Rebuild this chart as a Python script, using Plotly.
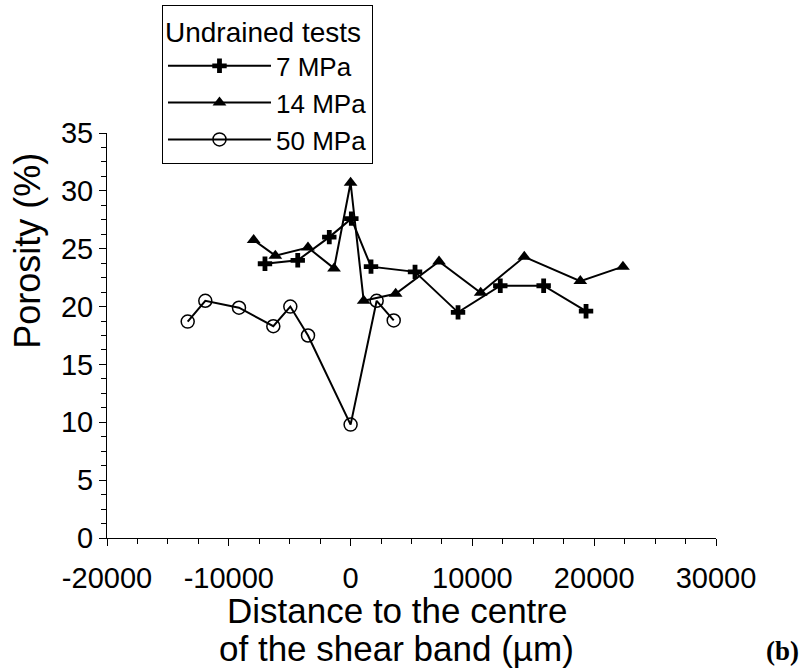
import plotly.graph_objects as go

# 7 MPa
x_7 = [-7030, -4340, -1750, 60, 1675, 5290, 8820, 12290, 15850, 19330]
y_7 = [23.7, 24.0, 26.0, 27.6, 23.45, 23.0, 19.5, 21.8, 21.8, 19.6]
# 14 MPa
x_14 = [-7960, -6180, -3500, -1360, 0, 1075, 3700, 7260, 10680, 14260, 18860, 22360]
y_14 = [25.75, 24.4, 25.1, 23.3, 30.7, 20.5, 21.1, 23.9, 21.2, 24.3, 22.2, 23.45]
# 50 MPa
x_50 = [-13375, -11930, -9163, -6346, -4950, -3497, 0, 2140, 3540]
y_50 = [18.7, 20.5, 19.9, 18.3, 20.0, 17.5, 9.8, 20.5, 18.8]

x_tickvals = [-20000, -10000, 0, 10000, 20000, 30000]
x_ticktext = ["-20000", "-10000", "0", "10000", "20000", "30000"]
y_tickvals = [0, 5, 10, 15, 20, 25, 30, 35]
y_ticktext = ["0", "5", "10", "15", "20", "25", "30", "35"]

legend_title = "Undrained tests"
names = ["7 MPa", "14 MPa", "50 MPa"]
x_title_lines = ["Distance to the centre", "of the shear band (µm)"]
y_title = "Porosity (%)"
panel_label = "<b>(b)</b>"

FONT = "Liberation Sans, Arial, sans-serif"

fig = go.Figure()
fig.add_trace(go.Scatter(x=x_7, y=y_7, name=names[0], mode="lines+markers",
                         line=dict(color="black", width=2),
                         marker=dict(symbol="cross", size=12, color="black")))
fig.add_trace(go.Scatter(x=x_14, y=y_14, name=names[1], mode="lines+markers",
                         line=dict(color="black", width=2),
                         marker=dict(symbol="triangle-up", size=12, color="black")))
fig.add_trace(go.Scatter(x=x_50, y=y_50, name=names[2], mode="lines+markers",
                         line=dict(color="black", width=2),
                         marker=dict(symbol="circle-open", size=13, color="black",
                                     line=dict(width=1.5, color="black"))))

fig.update_layout(
    width=809, height=668,
    margin=dict(l=107, r=93, t=133, b=130, autoexpand=False),
    paper_bgcolor="white", plot_bgcolor="white",
    font=dict(family=FONT, color="black", size=29),
    showlegend=True,
    legend=dict(
        title=dict(text=legend_title, font=dict(size=28, family=FONT)),
        font=dict(size=26, family=FONT),
        x=0.0903, y=1.316, xanchor="left", yanchor="top",
        bordercolor="black", borderwidth=1, bgcolor="white",
        tracegroupgap=0, itemwidth=103,
    ),
    xaxis=dict(
        range=[-20000, 30000], tickvals=x_tickvals, ticktext=x_ticktext,
        showgrid=False, zeroline=False,
        showline=True, linecolor="black", linewidth=1,
        ticks="outside", ticklen=7, tickcolor="black", tickwidth=1,
        ticklabelstandoff=7,
        tickfont=dict(size=29, family=FONT),
        minor=dict(dtick=2500, tick0=0, ticks="outside", ticklen=5, tickcolor="black", tickwidth=1),
    ),
    yaxis=dict(
        range=[0, 35], tickvals=y_tickvals, ticktext=y_ticktext,
        showgrid=False, zeroline=False,
        showline=True, linecolor="black", linewidth=1,
        ticks="outside", ticklen=7, tickcolor="black", tickwidth=1,
        tickfont=dict(size=29, family=FONT),
        minor=dict(dtick=1.25, tick0=0, ticks="outside", ticklen=5, tickcolor="black", tickwidth=1),
    ),
)

fig.add_annotation(text=x_title_lines[0], xref="paper", yref="paper",
                   x=0.476, y=-0.178, xanchor="center", yanchor="middle",
                   showarrow=False, font=dict(size=35, family=FONT))
fig.add_annotation(text=x_title_lines[1], xref="paper", yref="paper",
                   x=0.476, y=-0.272, xanchor="center", yanchor="middle",
                   showarrow=False, font=dict(size=35, family=FONT))
fig.add_annotation(text=y_title, xref="paper", yref="paper",
                   x=-0.13, y=0.709, xanchor="center", yanchor="middle",
                   textangle=-90, showarrow=False, font=dict(size=36, family=FONT))
fig.add_annotation(text=panel_label, xref="paper", yref="paper",
                   x=1.11, y=-0.278, xanchor="center", yanchor="middle",
                   showarrow=False, font=dict(size=27, family="Liberation Serif, Times New Roman, serif"))

fig.write_html("out.html", config={"displayModeBar": False},
               post_script="document.body.style.margin='0';document.body.style.overflow='hidden';")
